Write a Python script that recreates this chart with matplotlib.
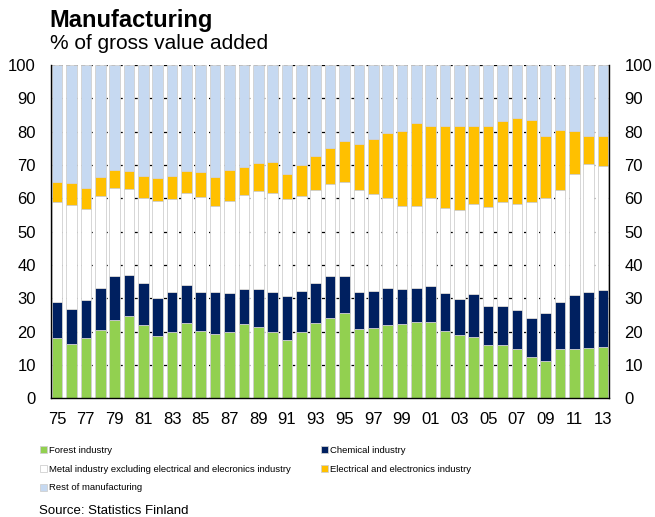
import numpy as np
import matplotlib
matplotlib.use("Agg")
import matplotlib.pyplot as plt

plt.rcParams['font.family'] = ['Liberation Sans', 'DejaVu Sans']

years = list(range(1975, 2014))
tick_labels = [f"{y % 100:02d}" for y in years]

forest = [18.1, 16.3, 18.1, 20.6, 23.6, 24.8, 22.1, 18.6, 19.8, 22.5,
          20.1, 19.3, 19.9, 22.3, 21.3, 19.8, 17.5, 20.0, 22.7, 24.0,
          25.6, 20.9, 21.2, 22.0, 22.2, 23.0, 22.8, 20.3, 18.8, 18.2,
          15.8, 16.0, 14.8, 12.4, 11.2, 14.8, 14.7, 15.0, 15.2]
chemical = [10.7, 10.5, 11.4, 12.6, 13.2, 12.3, 12.5, 11.6, 12.1, 11.6,
            11.8, 12.5, 11.6, 10.6, 11.4, 12.1, 13.3, 12.3, 12.0, 12.7,
            11.1, 11.0, 11.0, 11.1, 10.6, 10.0, 10.8, 11.3, 10.9, 13.2,
            11.8, 11.8, 11.8, 11.6, 14.4, 14.0, 16.4, 16.9, 17.2]
metal = [30.2, 31.2, 27.3, 27.5, 26.2, 25.7, 25.6, 29.1, 27.9, 27.4,
         28.6, 26.0, 27.8, 28.0, 29.5, 29.6, 29.0, 28.5, 27.8, 27.7,
         28.3, 30.5, 29.0, 26.9, 24.8, 24.8, 26.6, 25.5, 26.9, 26.8,
         29.9, 31.0, 31.7, 34.9, 34.6, 33.7, 36.3, 38.4, 37.3]
electrical = [6.0, 6.7, 6.4, 5.7, 5.4, 5.5, 6.4, 6.9, 7.0, 6.7,
              7.5, 8.7, 9.2, 8.6, 8.3, 9.4, 7.6, 9.2, 10.1, 10.7,
              12.1, 13.9, 16.6, 19.5, 22.6, 24.9, 21.4, 24.5, 25.0, 23.6,
              24.3, 24.3, 25.7, 24.5, 18.4, 18.1, 12.9, 8.5, 8.9]
rest = [35.0, 35.3, 36.8, 33.6, 31.6, 31.7, 33.4, 33.8, 33.2, 31.8,
        32.0, 33.5, 31.5, 30.5, 29.5, 29.1, 32.6, 30.0, 27.4, 24.9,
        22.9, 23.7, 22.2, 20.5, 19.8, 17.3, 18.4, 18.4, 18.4, 18.2,
        18.2, 16.9, 16.0, 16.6, 21.4, 19.4, 19.7, 21.2, 21.4]

series = [
    ("Forest industry", forest, "#92D050"),
    ("Chemical industry", chemical, "#002060"),
    ("Metal industry excluding electrical and elecronics industry", metal, "#FFFFFF"),
    ("Electrical and electronics industry", electrical, "#FFC000"),
    ("Rest of manufacturing", rest, "#C6D9F1"),
]

fig = plt.figure(figsize=(6.55, 5.17), dpi=100)
ax = fig.add_axes([0.078, 0.230, 0.852, 0.644])

x = np.arange(len(years))
bottom = np.zeros(len(years))
handles = {}
for name, vals, color in series:
    vals = np.array(vals)
    b = ax.bar(x, vals, bottom=bottom, width=0.74, color=color,
               edgecolor="#D0D0D0", linewidth=0.6, label=name, zorder=2)
    handles[name] = b
    bottom += vals

ax.set_ylim(0, 100)
ax.set_xlim(-0.42, len(years) - 0.58)
ax.set_yticks(range(0, 101, 10))
ax.set_xticks(x[::2])
ax.set_xticklabels(tick_labels[::2])
ax.yaxis.grid(True, color="black", linestyle=(0, (3, 3)), linewidth=0.9, zorder=0)
ax.set_axisbelow(True)
ax.tick_params(axis="both", length=0, labelsize=12)
ax.tick_params(axis="y", pad=11, labelright=True, right=False)
ax.tick_params(axis="x", pad=10)
ax.spines["top"].set_visible(False)
for s in ["left", "right", "bottom"]:
    ax.spines[s].set_color("black")
    ax.spines[s].set_linewidth(1.0)

fig.text(0.076, 0.948, "Manufacturing", fontsize=17, fontweight="bold", va="baseline")
fig.text(0.076, 0.905, "% of gross value added", fontsize=15, va="baseline")

order = ["Forest industry",
         "Metal industry excluding electrical and elecronics industry",
         "Rest of manufacturing",
         "Chemical industry",
         "Electrical and electronics industry"]
leg = fig.legend([handles[n] for n in order], order, loc="upper left",
                 bbox_to_anchor=(0.061, 0.138), ncol=2, frameon=False,
                 fontsize=6.8, handlelength=0.75, handleheight=0.75,
                 handletextpad=0.2, columnspacing=3.2, labelspacing=1.05,
                 borderpad=0, borderaxespad=0)

fig.text(0.060, 0.006, "Source: Statistics Finland", fontsize=9.5, va="baseline")

fig.savefig("out.png", dpi=100)
